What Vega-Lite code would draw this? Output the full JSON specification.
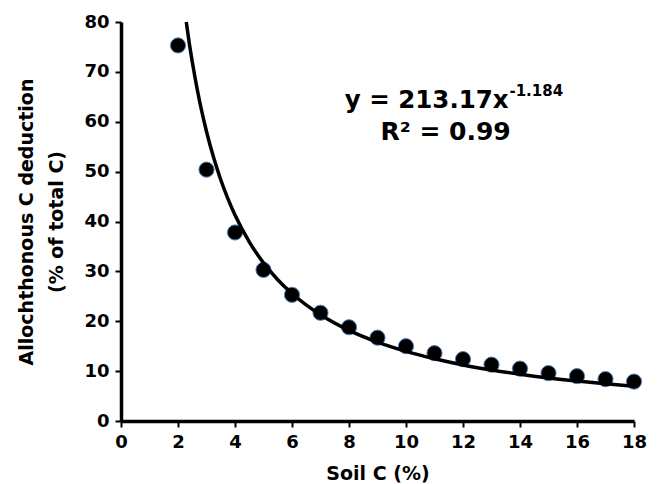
{
  "$schema": "https://vega.github.io/schema/vega-lite/v6.json",
  "width": 513,
  "height": 399,
  "autosize": {"type": "none"},
  "padding": {"left": 121, "top": 22, "right": 23, "bottom": 63},
  "background": "white",
  "config": {
    "view": {"stroke": null},
    "font": "DejaVu Sans",
    "axis": {
      "grid": false,
      "domainColor": "black",
      "domainWidth": 3.5,
      "tickColor": "black",
      "tickWidth": 2,
      "tickSize": 6,
      "labelFlush": false,
      "labelFont": "DejaVu Sans",
      "labelFontWeight": "bold",
      "labelFontSize": 18,
      "labelColor": "black",
      "labelPadding": 6,
      "titleFont": "DejaVu Sans",
      "titleFontWeight": "bold",
      "titleFontSize": 19,
      "titleColor": "black"
    }
  },
  "datasets": {
    "obs": [
      {"x": 2, "y": 75.3}, {"x": 3, "y": 50.4}, {"x": 4, "y": 37.8},
      {"x": 5, "y": 30.3}, {"x": 6, "y": 25.3}, {"x": 7, "y": 21.7},
      {"x": 8, "y": 18.8}, {"x": 9, "y": 16.7}, {"x": 10, "y": 15.0},
      {"x": 11, "y": 13.6}, {"x": 12, "y": 12.4}, {"x": 13, "y": 11.3},
      {"x": 14, "y": 10.5}, {"x": 15, "y": 9.6}, {"x": 16, "y": 9.0},
      {"x": 17, "y": 8.4}, {"x": 18, "y": 7.9}
    ],
    "fit": [
      {"x": 2.29, "y": 80.0}, {"x": 2.4, "y": 75.61}, {"x": 2.5, "y": 72.04},
      {"x": 2.6, "y": 68.77}, {"x": 2.75, "y": 64.35}, {"x": 2.9, "y": 60.43},
      {"x": 3, "y": 58.05}, {"x": 3.25, "y": 52.81}, {"x": 3.5, "y": 48.37},
      {"x": 3.75, "y": 44.58}, {"x": 4, "y": 41.29}, {"x": 4.5, "y": 35.92},
      {"x": 5, "y": 31.71}, {"x": 5.5, "y": 28.32}, {"x": 6, "y": 25.55},
      {"x": 7, "y": 21.29}, {"x": 8, "y": 18.17}, {"x": 9, "y": 15.81},
      {"x": 10, "y": 13.96}, {"x": 11, "y": 12.47}, {"x": 12, "y": 11.24},
      {"x": 13, "y": 10.23}, {"x": 14, "y": 9.37}, {"x": 15, "y": 8.63},
      {"x": 16, "y": 8.0}, {"x": 17, "y": 7.45}, {"x": 18, "y": 6.96}
    ]
  },
  "encoding": {
    "x": {
      "field": "x", "type": "quantitative",
      "scale": {"domain": [0, 18], "nice": false, "zero": false},
      "axis": {"values": [0, 2, 4, 6, 8, 10, 12, 14, 16, 18], "title": "Soil C (%)", "titlePadding": 13}
    },
    "y": {
      "field": "y", "type": "quantitative",
      "scale": {"domain": [0, 80], "nice": false},
      "axis": {"values": [0, 10, 20, 30, 40, 50, 60, 70, 80], "title": ["Allochthonous C deduction", "(% of total C)"], "titlePadding": 17, "titleLineHeight": 30}
    }
  },
  "layer": [
    {
      "data": {"name": "obs"},
      "mark": {"type": "point", "filled": true, "shape": "circle", "size": 230, "color": "black", "stroke": "#4f81bd", "strokeWidth": 1, "opacity": 1}
    },
    {
      "data": {"name": "fit"},
      "mark": {"type": "line", "color": "black", "strokeWidth": 3.5, "interpolate": "monotone"}
    },
    {
      "data": {"values": [{"x": 13.6, "y": 62.8, "t": "y = 213.17x"}]},
      "mark": {"type": "text", "align": "right", "baseline": "alphabetic", "font": "DejaVu Sans", "fontWeight": "bold", "fontSize": 24.5, "color": "black"},
      "encoding": {"text": {"field": "t"}}
    },
    {
      "data": {"values": [{"x": 13.63, "y": 65.1, "t": "-1.184"}]},
      "mark": {"type": "text", "align": "left", "baseline": "alphabetic", "font": "DejaVu Sans", "fontWeight": "bold", "fontSize": 15, "color": "black"},
      "encoding": {"text": {"field": "t"}}
    },
    {
      "data": {"values": [{"x": 11.39, "y": 56.25, "t": "R² = 0.99"}]},
      "mark": {"type": "text", "align": "center", "baseline": "alphabetic", "font": "DejaVu Sans", "fontWeight": "bold", "fontSize": 25, "color": "black"},
      "encoding": {"text": {"field": "t"}}
    }
  ]
}
